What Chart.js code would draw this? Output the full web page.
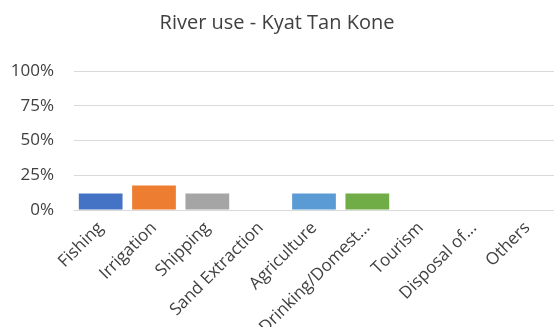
<!DOCTYPE html>
<html>
<head>
<meta charset="utf-8">
<script src="https://cdn.jsdelivr.net/npm/chart.js@4/dist/chart.umd.min.js"></script>
<style>
  html, body { margin: 0; padding: 0; background: #fff; }
  #wrap { width: 554px; height: 327px; position: relative; }
</style>
</head>
<body>
<div id="wrap"><canvas id="c"></canvas></div>
<script>
const categories = ["Fishing", "Irrigation", "Shipping", "Sand Extraction", "Agriculture", "Drinking/Domest...", "Tourism", "Disposal of...", "Others"];
const values = [0.118, 0.176, 0.118, 0, 0.118, 0.118, 0, 0, 0];
const barColors = ["#4472C4", "#ED7D31", "#A5A5A5", "#FFC000", "#5B9BD5", "#70AD47", "#264478", "#9E480E", "#636363"];
const yTicks = [0, 0.25, 0.5, 0.75, 1];

new Chart(document.getElementById("c"), {
  type: "bar",
  data: {
    labels: categories,
    datasets: [{
      data: values,
      backgroundColor: barColors,
      borderWidth: 0,
      barPercentage: 0.82,
      categoryPercentage: 1
    }]
  },
  options: {
    responsive: true,
    maintainAspectRatio: false,
    animation: false,
    layout: { padding: { left: 0, right: 0, top: 0, bottom: 0 } },
    plugins: {
      legend: { display: false },
      tooltip: { enabled: false },
      title: {
        display: true,
        text: "River use - Kyat Tan Kone",
        color: "#404040",
        font: { family: "Open Sans", size: 20, weight: "normal" },
        padding: { top: 11, bottom: 36 }
      }
    },
    scales: {
      x: {
        grid: { display: false, drawTicks: false },
        border: { display: true, color: "#d9d9d9", width: 1 },
        ticks: {
          color: "#404040",
          font: { family: "Open Sans", size: 17 },
          minRotation: 45,
          maxRotation: 45,
          autoSkip: false,
          padding: 8
        },
        afterFit: (s) => { s.height = 117; }
      },
      y: {
        min: 0,
        max: 1,
        afterBuildTicks: (s) => { s.ticks = yTicks.map(v => ({ value: v })); },
        grid: { color: "#d9d9d9", drawTicks: false },
        border: { display: false },
        ticks: {
          color: "#404040",
          font: { family: "Open Sans", size: 17 },
          padding: 20,
          callback: (v) => Math.round(v * 100) + "%"
        },
        afterFit: (s) => { s.width = 74; }
      }
    }
  }
});
</script>
</body>
</html>
